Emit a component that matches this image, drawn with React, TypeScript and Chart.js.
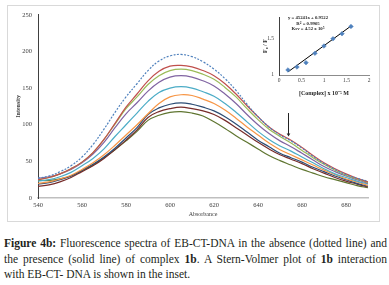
import React, { useEffect, useRef } from "react";
import { Chart, registerables } from "chart.js";

Chart.register(...registerables);

// ---------- Main spectra data ----------
const WAVELENGTHS = [540, 545, 550, 555, 560, 565, 570, 575, 580, 585, 590, 595, 600, 605, 610, 615, 620, 625, 630, 635, 640, 645, 650, 655, 660, 665, 670, 675, 680, 685, 690];

const EB_DNA = [27, 30, 36, 44, 56, 73, 94, 117, 138, 156, 174, 187, 194, 196, 193, 186, 176, 163, 147, 128, 111, 97, 86, 78, 68, 57, 47, 39, 32, 27, 23];
const ADD_1 = [25, 28, 33, 40, 49, 62, 80, 102, 124, 142, 160, 173, 180, 181, 179, 174, 167, 156, 142, 126, 111, 97, 87, 79, 69, 58, 48, 40, 33, 27, 22];
const ADD_2 = [25, 28, 33, 40, 49, 62, 80, 101, 122, 138, 155, 167, 174, 176, 174, 169, 162, 151, 138, 122, 107, 94, 84, 75, 65, 55, 46, 38, 31, 26, 21];
const ADD_3 = [27, 29, 33, 39, 48, 60, 76, 96, 115, 130, 146, 158, 165, 167, 165, 160, 153, 142, 129, 114, 100, 88, 78, 70, 61, 52, 43, 36, 30, 25, 20];
const ADD_4 = [23, 25, 29, 35, 44, 54, 67, 84, 100, 116, 132, 144, 150, 152, 150, 145, 139, 129, 117, 104, 91, 80, 71, 64, 56, 48, 40, 33, 28, 23, 19];
const ADD_5 = [20, 22, 26, 31, 39, 48, 59, 72, 86, 100, 115, 129, 138, 141, 140, 135, 129, 120, 109, 97, 86, 75, 66, 59, 52, 45, 38, 32, 26, 22, 17];
const ADD_6 = [19, 21, 25, 30, 38, 46, 56, 68, 82, 96, 114, 123, 128, 130, 128, 124, 119, 111, 101, 90, 79, 70, 61, 55, 49, 42, 36, 30, 25, 20, 16];
const ADD_7 = [16, 18, 22, 28, 36, 44, 54, 66, 79, 93, 110, 118, 122, 124, 122, 119, 114, 106, 96, 86, 76, 67, 59, 53, 47, 40, 34, 28, 23, 19, 15];
const ADD_8 = [24, 24, 26, 30, 37, 45, 55, 66, 78, 91, 106, 113, 117, 118, 116, 112, 104, 95, 85, 76, 67, 58, 51, 45, 39, 34, 29, 25, 21, 17, 14];

const SERIES = [EB_DNA, ADD_1, ADD_2, ADD_3, ADD_4, ADD_5, ADD_6, ADD_7, ADD_8];
const COLORS = ["#4F81BD", "#C0504D", "#9BBB59", "#8064A2", "#4BACC6", "#F79646", "#2C4D75", "#772C2A", "#5F7530"];

const Y_MIN = 0;
const Y_MAX = 250;
const Y_STEP = 50;
const X_MIN = 540;
const X_MAX = 690;
const X_STEP = 20;

// arrow annotation (wavelength, from intensity, to intensity)
const ARROW_X = 653.5;
const ARROW_FROM = 116;
const ARROW_TO = 84;

// ---------- Inset (Stern-Volmer) ----------
const CONC = [0.2, 0.4, 0.6, 0.8, 1.0, 1.2, 1.4, 1.6];
const F0_F = [1.07, 1.11, 1.17, 1.30, 1.40, 1.50, 1.57, 1.67];
const TREND_SLOPE = 0.45241;
const TREND_INTERCEPT = 0.9522;
const INSET_X_TICKS = [0, 0.5, 1, 1.5, 2];
const INSET_Y_TICKS = [1, 1.5];

const SERIF = "'Liberation Serif', 'Times New Roman', serif";

const arrowPlugin = {
  id: "arrowPlugin",
  afterDatasetsDraw(chart: any) {
    const { ctx, scales } = chart;
    const x = Math.round(scales.x.getPixelForValue(ARROW_X)) + 0.5;
    const y1 = scales.y.getPixelForValue(ARROW_FROM);
    const y2 = scales.y.getPixelForValue(ARROW_TO);
    ctx.save();
    ctx.strokeStyle = "#222";
    ctx.fillStyle = "#222";
    ctx.lineWidth = 1;
    ctx.beginPath();
    ctx.moveTo(x, y1);
    ctx.lineTo(x, y2 - 2);
    ctx.stroke();
    ctx.beginPath();
    ctx.moveTo(x - 1.8, y2 - 3);
    ctx.lineTo(x + 1.8, y2 - 3);
    ctx.lineTo(x, y2);
    ctx.closePath();
    ctx.fill();
    ctx.restore();
  },
};

function MainChart() {
  const ref = useRef<HTMLCanvasElement | null>(null);
  useEffect(() => {
    if (!ref.current) return;
    const chart = new Chart(ref.current, {
      type: "line",
      data: {
        datasets: SERIES.map((vals, i) => ({
          data: vals.map((v, j) => ({ x: WAVELENGTHS[j], y: v })),
          borderColor: COLORS[i],
          backgroundColor: COLORS[i],
          borderWidth: 1.2,
          borderDash: i === 0 ? [2, 1.5] : [],
          pointRadius: 0,
          tension: 0.4,
          fill: false,
        })),
      },
      options: {
        animation: false,
        responsive: false,
        devicePixelRatio: 1,
        layout: { padding: { left: 0, top: 6, right: 12, bottom: 0 } },
        plugins: { legend: { display: false }, tooltip: { enabled: false } },
        scales: {
          x: {
            type: "linear",
            min: X_MIN,
            max: X_MAX,
            grid: { display: false, drawTicks: false },
            border: { display: true, color: "#BFBFBF", width: 1.4 },
            ticks: {
              stepSize: X_STEP,
              includeBounds: false,
              padding: 3.5,
              color: "#404040",
              font: { family: SERIF, size: 6.5 },
              maxRotation: 0,
            },
            title: {
              display: true,
              text: "Absorbance",
              color: "#404040",
              font: { family: SERIF, size: 6 },
              padding: { top: 0, bottom: 4.4 },
            },
            afterFit: (s: any) => {
              s.height = 24;
            },
          },
          y: {
            min: Y_MIN,
            max: Y_MAX,
            grid: { display: false, drawTicks: false },
            border: { display: true, color: "#404040", width: 1 },
            ticks: {
              stepSize: Y_STEP,
              padding: 6,
              color: "#404040",
              font: { family: SERIF, size: 6.5 },
            },
            title: {
              display: true,
              text: "Intensity",
              color: "#404040",
              font: { family: SERIF, size: 6, weight: "bold" },
              padding: { top: 7.4, bottom: 0 },
            },
            afterFit: (s: any) => {
              s.width = 31;
            },
          },
        },
      } as any,
      plugins: [arrowPlugin],
    });
    return () => chart.destroy();
  }, []);
  return <canvas ref={ref} width={373} height={217} style={{ position: "absolute", left: 7, top: 5, width: 373, height: 217 }} />;
}

function InsetChart() {
  const ref = useRef<HTMLCanvasElement | null>(null);
  useEffect(() => {
    if (!ref.current) return;
    const trend = [CONC[0], CONC[CONC.length - 1]].map((c) => ({ x: c, y: TREND_SLOPE * c + TREND_INTERCEPT }));
    const chart = new Chart(ref.current, {
      type: "scatter",
      data: {
        datasets: [
          {
            data: CONC.map((c, i) => ({ x: c, y: F0_F[i] })),
            pointStyle: "rectRot",
            pointRadius: 2.3,
            backgroundColor: "#4F81BD",
            borderColor: "#4F81BD",
            borderWidth: 0.5,
            showLine: false,
          },
          {
            data: trend,
            borderColor: "#000000",
            borderWidth: 1,
            pointRadius: 0,
            showLine: true,
          },
        ],
      },
      options: {
        animation: false,
        responsive: false,
        devicePixelRatio: 1,
        layout: { padding: { left: 0, top: 14, right: 18, bottom: 0 } },
        plugins: { legend: { display: false }, tooltip: { enabled: false } },
        scales: {
          x: {
            type: "linear",
            min: INSET_X_TICKS[0],
            max: INSET_X_TICKS[INSET_X_TICKS.length - 1],
            grid: { display: false, drawTicks: false },
            border: { display: true, color: "#8C8C8C", width: 1 },
            afterBuildTicks: (s: any) => {
              s.ticks = INSET_X_TICKS.map((v) => ({ value: v }));
            },
            ticks: {
              padding: 2.7,
              color: "#404040",
              font: { family: SERIF, size: 5.5 },
              maxRotation: 0,
              callback: (v: any) => String(v),
            },
            title: {
              display: true,
              text: "[Complex] x 10⁻⁵ M",
              color: "#262626",
              font: { family: SERIF, size: 6, weight: "bold" },
              padding: { top: 0, bottom: 1.4 },
            },
            afterFit: (s: any) => {
              s.height = 23;
            },
          },
          y: {
            min: 1,
            max: 1.8,
            grid: { display: false, drawTicks: false },
            border: { display: true, color: "#404040", width: 1 },
            afterBuildTicks: (s: any) => {
              s.ticks = INSET_Y_TICKS.map((v) => ({ value: v }));
            },
            ticks: {
              padding: 5,
              color: "#404040",
              font: { family: SERIF, size: 5.5 },
              callback: (v: any) => String(v),
            },
            title: {
              display: true,
              text: "F₀ / F",
              color: "#262626",
              font: { family: SERIF, size: 6, weight: "bold" },
              padding: { top: 6.4, bottom: 0 },
            },
            afterFit: (s: any) => {
              s.width = 24;
            },
          },
        },
      } as any,
    });
    return () => chart.destroy();
  }, []);
  return <canvas ref={ref} width={132} height={95} style={{ position: "absolute", left: 255, top: 3, width: 132, height: 95 }} />;
}

const eqStyle: React.CSSProperties = {
  position: "absolute",
  left: 270,
  width: 76,
  textAlign: "center",
  fontFamily: SERIF,
  fontSize: 4.8,
  fontWeight: "bold",
  color: "#262626",
  lineHeight: "5px",
  whiteSpace: "nowrap",
};

const capLine: React.CSSProperties = {
  position: "absolute",
  left: 4,
  width: 383,
  fontFamily: SERIF,
  fontSize: 11.5,
  lineHeight: "15.5px",
  color: "#231F20",
};

export default function App() {
  return (
    <div style={{ position: "fixed", left: 0, top: 0, width: 389, height: 285, background: "#fff", overflow: "hidden" }}>
      <div style={{ position: "absolute", left: 7, top: 5, width: 373, height: 217, border: "1px solid #D9D9D9", boxSizing: "border-box" }} />
      <MainChart />
      <InsetChart />
      <div style={{ ...eqStyle, top: 15 }}>y = 45241x + 0.9522</div>
      <div style={{ ...eqStyle, top: 20.5 }}>
        R<sup style={{ fontSize: 3.5, verticalAlign: "1.5px", lineHeight: 0 }}>2</sup> = 0.9905
      </div>
      <div style={{ ...eqStyle, top: 26 }}>
        Ksv = 4.52 x 10<sup style={{ fontSize: 3.5, verticalAlign: "1.5px", lineHeight: 0 }}>5</sup>
      </div>
      <div style={{ ...capLine, top: 236, textAlign: "justify", textAlignLast: "justify" }}>
        <b>Figure 4b:</b> Fluorescence spectra of EB-CT-DNA in the absence (dotted line) and
      </div>
      <div style={{ ...capLine, top: 251.5, textAlign: "justify", textAlignLast: "justify" }}>
        the presence (solid line) of complex <b>1b</b>. A Stern-Volmer plot of <b>1b</b> interaction
      </div>
      <div style={{ ...capLine, top: 267 }}>with EB-CT- DNA is shown in the inset.</div>
    </div>
  );
}
